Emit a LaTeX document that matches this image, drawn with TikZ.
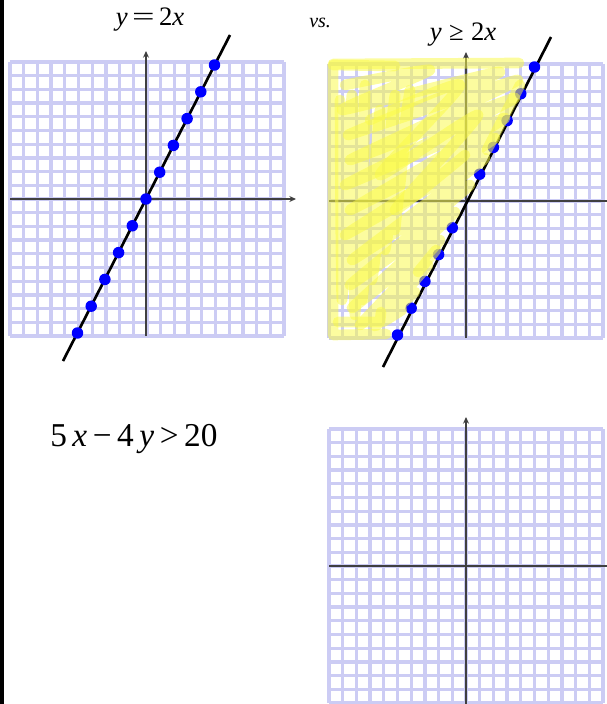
\documentclass[tikz,border=0pt]{standalone}
\usepackage{fontspec}
\setmainfont{Liberation Serif}
\usepackage{graphicx}
\usetikzlibrary{arrows.meta}
\definecolor{gridc}{RGB}{204,204,244}
\definecolor{axisc}{RGB}{64,64,64}
\definecolor{hl}{RGB}{250,250,70}
\definecolor{dotc}{RGB}{0,0,255}
\tikzset{
  gridline/.style={gridc, line width=2.5pt},
  axisline/.style={axisc, line width=1.5pt, -{Stealth[length=5pt,width=4.5pt]}},
  axisplain/.style={axisc, line width=1.5pt},
  graphline/.style={black, line width=2pt},
  ptdot/.style={fill=dotc, circle, inner sep=0pt, minimum size=8.6pt},
  scrib/.style={hl, opacity=0.52, line width=8pt, line cap=round, line join=round},
  lbl/.style={inner sep=0pt, anchor=base}
}
\newcommand\drawgrid[2]{%
  \foreach \i in {0,...,20}{%
    \draw[gridline] ({#1+13.7*\i},#2) -- ({#1+13.7*\i},{#2+274});
    \draw[gridline] (#1,{#2+13.7*\i}) -- ({#1+274},{#2+13.7*\i});
  }}
\begin{document}
\begin{tikzpicture}[x=0.75pt,y=-0.75pt]
\useasboundingbox (0,0) rectangle (607,704);
\fill[black] (0,0) rectangle (4,704);

% ---------- left graph: y = 2x ----------
\drawgrid{10}{62}
\coordinate (lo) at (146,199);
\draw[axisline] (146,336) -- (146,51);
\draw[axisline] (10,199) -- (296,199);
\coordinate (la) at (63,361);
\coordinate (lb) at (230,35);
\draw[graphline] (la) -- (lb);
\foreach \k in {-5,...,5}{
  \node[ptdot] (ld\k) at ({146+13.7*\k},{199-26.8*\k}) {};
}
\node[lbl] (t1) at (150,25) {\fontsize{20pt}{22pt}\selectfont\textit{y}\,\scalebox{1.5}[1]{=}\,2\textit{x}};

% ---------- right graph: y >= 2x ----------
\node[lbl, anchor=base west] (tvs) at (309,27) {\fontsize{15pt}{17pt}\selectfont\textit{vs.}};
\node[lbl] (t2) at (463,40) {\fontsize{20pt}{22pt}\selectfont\textit{y}\;≥\;2\textit{x}};
\drawgrid{329}{64}
\draw[axisline] (466,338) -- (466,52);
\draw[axisplain] (329,201) -- (607,201);
\coordinate (ra) at (383,367);
\coordinate (rb) at (551,37);
\draw[graphline] (ra) -- (rb);
\foreach \k in {-5,...,-1,1,2,...,5}{
  \node[ptdot] (rd\k) at ({466+13.7*\k},{201-26.8*\k}) {};
}
% yellow highlighter scribble
\draw[scrib] (519,63) -- (333,64) -- (333,335) -- (386,334);
\draw[scrib] (333,65) -- (395,66);
\draw[scrib] (338,322) -- (380,322) -- (381,312);
\draw[scrib] plot[smooth, tension=0.35] coordinates {
  (345,85) (430,70) (342,110) (500,72) (348,135) (518,80) (350,160) (515,98)
  (345,185) (505,118) (350,210) (495,138) (345,235) (485,158) (352,260) (470,185)
  (350,285) (455,212) (352,308) (440,240) (360,325) (428,265) (375,326) (415,292)
  (382,322) (402,310)};
\draw[scrib] plot[smooth, tension=0.35] coordinates {
  (340,100) (342,300) (352,95) (355,315) (365,85) (362,300) (380,110) (372,280)
  (395,95) (385,250) (410,90) (395,230)};
\draw[scrib] plot[smooth, tension=0.4] coordinates {
  (370,120) (460,85) (380,175) (478,115) (395,210) (465,155)};
\draw[scrib] (520,85) -- (487,150);
\draw[scrib] (418,272) -- (436,250);

% ---------- bottom ----------
\node[lbl, anchor=base west] (t3) at (50,446) {\fontsize{25pt}{27pt}\selectfont 5\,\textit{x}\,−\,4\,\textit{y}\,>\,20};
\drawgrid{329}{429}
\draw[axisplain] (466,704) -- (466,430);
\draw[axisline] (466,430) -- (466,417);
\draw[axisplain] (329,566) -- (607,566);
\end{tikzpicture}
\end{document}
